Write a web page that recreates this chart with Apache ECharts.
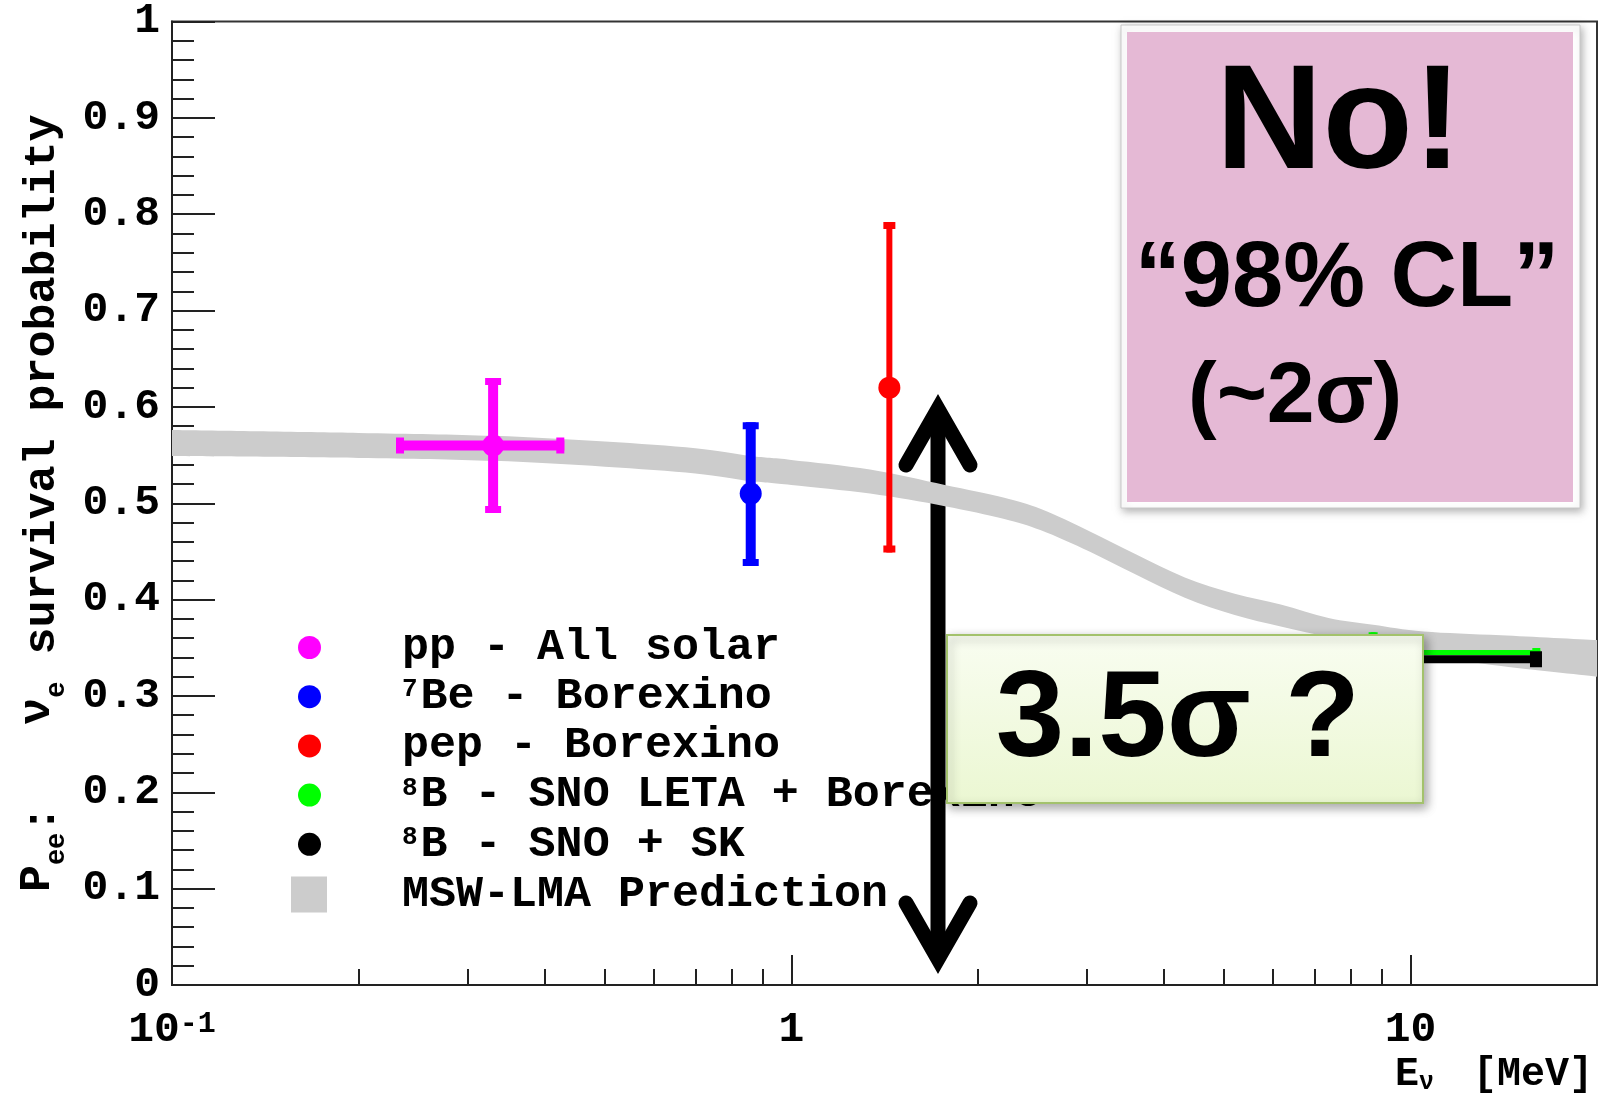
<!DOCTYPE html>
<html><head><meta charset="utf-8">
<script src="https://cdn.jsdelivr.net/npm/echarts@6/dist/echarts.min.js"></script>
<style>html,body{margin:0;padding:0;background:#fff}#c{width:1601px;height:1099px}</style>
</head><body><div id="c"></div>
<script>
// ---------------- data ----------------
const sources = ['pp', 'Be7', 'pep', 'B8leta', 'B8sk'];
const sourceLabels = ['{t|pp - All solar}', '{s|7}{t|Be - Borexino}', '{t|pep - Borexino}',
  '{s|8}{t|B - SNO LETA + Borexino}', '{s|8}{t|B - SNO + SK}'];
const energy     = [0.33, 0.86, 1.44, 8.7, 10.0];
const pee        = [0.56, 0.51, 0.62, 0.345, 0.338];
const energyLow  = [0.23, null, null, 5.0, 6.0];
const energyHigh = [0.43, null, null, 16.2, 16.3];
const peeLow     = [0.49, 0.435, 0.449, 0.325, null];
const peeHigh    = [0.63, 0.584, 0.792, 0.366, null];

const bandEnergy = [0.1, 0.2, 0.33, 0.5, 0.7, 0.86, 1.0, 1.34, 1.77, 2.2, 2.53, 3.03, 3.6, 4.32, 5.2, 6.17, 7.37, 8.7, 10.5, 14, 20];
const bandLow    = [0.549, 0.547, 0.544, 0.538, 0.531, 0.523, 0.519, 0.510, 0.497, 0.484, 0.472, 0.450, 0.426, 0.402, 0.384, 0.372, 0.361, 0.351, 0.343, 0.331, 0.320];
const bandHigh   = [0.576, 0.573, 0.570, 0.564, 0.557, 0.549, 0.545, 0.535, 0.519, 0.506, 0.494, 0.471, 0.447, 0.423, 0.406, 0.395, 0.381, 0.374, 0.367, 0.363, 0.358];

const xTickLabels = [0.1, 1, 10];
const xMajorTicks = [1, 10];
const xMinorTicks = [0.2, 0.3, 0.4, 0.5, 0.6, 0.7, 0.8, 0.9, 2, 3, 4, 5, 6, 7, 8, 9];

// ---------------- style ----------------
const colors = ['#ff00ff', '#0000ff', '#ff0000', '#00ff00', '#000000'];
const barStyle = [
  {h: 10, v: 10, cap: 3, capw: 8},
  {h: 10, v: 10, cap: 3, capw: 8},
  {h: 6,  v: 6,  cap: 3, capw: 8},
  {h: 5,  v: 5,  cap: 2, capw: 8},
  {h: 8,  v: 8,  cap: 4, capw: 12}
];
const MONO = 'Liberation Mono';
const SANS = 'Liberation Sans';
const axisCol = '#222';
const bandColor = '#cccccc';

const chart = echarts.init(document.getElementById('c'), null, {renderer: 'canvas'});

function renderErr(params, api) {
  const i = api.value(2);
  const st = barStyle[i];
  const col = colors[i];
  const c = api.coord([energy[i], pee[i]]);
  const ch = [];
  if (energyLow[i] != null) {
    const a = api.coord([energyLow[i], pee[i]]);
    const b = api.coord([energyHigh[i], pee[i]]);
    ch.push({type: 'rect', shape: {x: a[0], y: c[1] - st.h / 2, width: b[0] - a[0], height: st.h}, style: {fill: col}});
    ch.push({type: 'rect', shape: {x: a[0], y: c[1] - st.h / 2 - st.cap, width: st.capw, height: st.h + 2 * st.cap}, style: {fill: col}});
    ch.push({type: 'rect', shape: {x: b[0] - st.capw, y: c[1] - st.h / 2 - st.cap, width: st.capw, height: st.h + 2 * st.cap}, style: {fill: col}});
  }
  if (peeLow[i] != null) {
    const lo = api.coord([energy[i], peeLow[i]]);
    const hi = api.coord([energy[i], peeHigh[i]]);
    ch.push({type: 'rect', shape: {x: c[0] - st.v / 2, y: hi[1], width: st.v, height: lo[1] - hi[1]}, style: {fill: col}});
    ch.push({type: 'rect', shape: {x: c[0] - st.v / 2 - st.cap, y: hi[1], width: st.v + 2 * st.cap, height: 7}, style: {fill: col}});
    ch.push({type: 'rect', shape: {x: c[0] - st.v / 2 - st.cap, y: lo[1] - 7, width: st.v + 2 * st.cap, height: 7}, style: {fill: col}});
  }
  return {type: 'group', children: ch};
}

// smooth path through screen points (Catmull-Rom -> cubic bezier)
function splinePath(p, start) {
  let d = start ? 'M' + p[0][0] + ',' + p[0][1] : 'L' + p[0][0] + ',' + p[0][1];
  for (let k = 0; k < p.length - 1; k++) {
    const p0 = p[Math.max(k - 1, 0)], p1 = p[k], p2 = p[k + 1], p3 = p[Math.min(k + 2, p.length - 1)];
    const c1 = [p1[0] + (p2[0] - p0[0]) / 6, p1[1] + (p2[1] - p0[1]) / 6];
    const c2 = [p2[0] - (p3[0] - p1[0]) / 6, p2[1] - (p3[1] - p1[1]) / 6];
    d += 'C' + c1[0] + ',' + c1[1] + ' ' + c2[0] + ',' + c2[1] + ' ' + p2[0] + ',' + p2[1];
  }
  return d;
}

function renderBand(params, api) {
  if (params.dataIndex !== 0) return null;
  const up = [], lo = [];
  for (let k = 0; k < bandEnergy.length; k++) up.push(api.coord([bandEnergy[k], bandHigh[k]]));
  for (let k = bandEnergy.length - 1; k >= 0; k--) lo.push(api.coord([bandEnergy[k], bandLow[k]]));
  const d = splinePath(up, true) + splinePath(lo, false) + 'Z';
  return {type: 'path', shape: {pathData: d}, style: {fill: bandColor}};
}

const series = [
  {
    type: 'custom', name: 'msw', renderItem: renderBand, clip: true, z: 1,
    data: bandEnergy.map((e, k) => [e, bandLow[k], bandHigh[k]]),
    encode: {x: 0, y: 1}, itemStyle: {color: bandColor}
  },
  {
    type: 'custom', name: 'errors', renderItem: renderErr, clip: true, z: 2,
    data: sources.map((s, i) => [energy[i], pee[i], i]),
    encode: {x: 0, y: 1}
  }
];
sources.forEach((s, i) => {
  series.push({
    type: 'scatter', name: s, z: 3, symbol: 'circle', symbolSize: 22,
    itemStyle: {color: colors[i], opacity: 1},
    data: [[energy[i], pee[i]]]
  });
});

const monoBold = {fontFamily: MONO, fontWeight: 'bold', color: '#000'};

const option = {
  animation: false,
  backgroundColor: '#ffffff',
  grid: {left: 172, right: 4, top: 20, bottom: 114, show: true, borderColor: '#333', borderWidth: 2, backgroundColor: 'transparent'},
  xAxis: [
    {
      type: 'log', logBase: 10, min: 0.1, max: 20, position: 'bottom',
      axisLine: {show: true, onZero: false, lineStyle: {color: axisCol, width: 2}},
      axisTick: {show: true, inside: true, length: 30, customValues: xMajorTicks, lineStyle: {color: axisCol, width: 2}},
      minorTick: {show: false},
      splitLine: {show: false},
      axisLabel: {
        customValues: xTickLabels, margin: 24,
        formatter: v => v < 0.5 ? '{n|10}{p|-1}' : '{n|' + v + '}',
        rich: {
          n: Object.assign({fontSize: 43, lineHeight: 43}, monoBold),
          p: Object.assign({fontSize: 30, lineHeight: 18, verticalAlign: 'top'}, monoBold)
        }
      },
      name: '{t|E}{s|ν}{t| }{s| }{t|[MeV]}', nameLocation: 'end', nameGap: -4,
      nameTextStyle: {
        align: 'right', verticalAlign: 'top', padding: [70, 0, 0, 0],
        rich: {
          t: Object.assign({fontSize: 40, lineHeight: 40}, monoBold),
          s: Object.assign({fontSize: 25, lineHeight: 30, verticalAlign: 'bottom'}, monoBold)
        }
      }
    },
    {
      type: 'log', logBase: 10, min: 0.1, max: 20, position: 'bottom',
      axisLine: {show: false, onZero: false},
      axisTick: {show: true, inside: true, length: 16, customValues: xMinorTicks, lineStyle: {color: axisCol, width: 2}},
      axisLabel: {show: false}, splitLine: {show: false}
    }
  ],
  yAxis: {
    type: 'value', min: 0, max: 1, interval: 0.1,
    axisLine: {show: true, lineStyle: {color: axisCol, width: 2}},
    axisTick: {show: true, inside: true, length: 43, lineStyle: {color: axisCol, width: 2}},
    minorTick: {show: true, splitNumber: 5, length: 22, lineStyle: {color: axisCol, width: 2}},
    splitLine: {show: false},
    axisLabel: Object.assign({margin: 12, fontSize: 43}, monoBold),
    name: '{r|P}{s|ee}{t|:   }{r|ν}{s|e}{t| survival probability}',
    nameLocation: 'middle', nameGap: 101,
    nameTextStyle: {
      rich: {
        t: Object.assign({fontSize: 45, lineHeight: 56}, monoBold),
        r: Object.assign({fontSize: 45, lineHeight: 40, verticalAlign: 'top'}, monoBold),
        s: Object.assign({fontSize: 27, lineHeight: 46, verticalAlign: 'bottom'}, monoBold)
      }
    }
  },
  legend: [
    {
      orient: 'vertical', left: 293, top: 620, itemWidth: 23, itemHeight: 23, itemGap: 4.2,
      selectedMode: false, data: sources,
      formatter: name => sourceLabels[sources.indexOf(name)],
      textStyle: {
        padding: [0, 0, 0, 76], lineHeight: 40,
        rich: {
          t: Object.assign({fontSize: 45, lineHeight: 40}, monoBold),
          s: Object.assign({fontSize: 26, lineHeight: 14, verticalAlign: 'top', padding: [0, 3, 0, 0]}, monoBold)
        }
      }
    },
    {
      orient: 'vertical', left: 286, top: 867, itemWidth: 36, itemHeight: 36,
      selectedMode: false,
      data: [{name: 'msw', icon: 'rect', itemStyle: {color: bandColor}}],
      formatter: () => '{t|MSW-LMA Prediction}',
      textStyle: {
        padding: [0, 0, 0, 70], lineHeight: 36,
        rich: {t: Object.assign({fontSize: 45, lineHeight: 36}, monoBold)}
      }
    }
  ],
  series: series,
  graphic: [
    {
      type: 'group', z: 100, children: [
        {type: 'line', shape: {x1: 938, y1: 409, x2: 938, y2: 959}, style: {stroke: '#000', lineWidth: 15}},
        {type: 'polyline', shape: {points: [[906, 465], [938, 409], [970, 465]]},
          style: {stroke: '#000', lineWidth: 15, lineCap: 'round', lineJoin: 'miter', fill: null}},
        {type: 'polyline', shape: {points: [[906, 903], [938, 959], [970, 903]]},
          style: {stroke: '#000', lineWidth: 15, lineCap: 'round', lineJoin: 'miter', fill: null}}
      ]
    },
    {
      type: 'rect', z: 110, shape: {x: 947, y: 635, width: 476, height: 168},
      style: {
        fill: new echarts.graphic.LinearGradient(0, 0, 0, 1, [{offset: 0, color: '#f9fdf1'}, {offset: 1, color: '#ebf7d2'}]),
        stroke: '#a3c26c', lineWidth: 2,
        shadowBlur: 10, shadowColor: 'rgba(0,0,0,0.35)', shadowOffsetX: 3, shadowOffsetY: 4
      }
    },
    {
      type: 'text', z: 111, x: 1178, y: 722,
      style: {text: '3.5σ ?', fontFamily: SANS, fontWeight: 'bold', fontSize: 123, fill: '#000',
        align: 'center', verticalAlign: 'middle', textAlign: 'center', textVerticalAlign: 'middle'}
    },
    {
      type: 'rect', z: 110, shape: {x: 1121, y: 25, width: 459, height: 483},
      style: {fill: '#ffffff', stroke: '#c8c8c8', lineWidth: 1,
        shadowBlur: 8, shadowColor: 'rgba(0,0,0,0.3)', shadowOffsetX: 2, shadowOffsetY: 3}
    },
    {
      type: 'rect', z: 111, shape: {x: 1127, y: 32, width: 446, height: 470},
      style: {fill: '#e5b9d5'}
    },
    {
      type: 'text', z: 112, x: 1339, y: 127,
      style: {text: 'No!', fontFamily: SANS, fontWeight: 'bold', fontSize: 148, fill: '#000',
        align: 'center', verticalAlign: 'middle', textAlign: 'center', textVerticalAlign: 'middle',
        shadowBlur: 6, shadowColor: 'rgba(0,0,0,0.3)', shadowOffsetY: 3}
    },
    {
      type: 'text', z: 112, x: 1347, y: 281,
      style: {text: '“98% CL”', fontFamily: SANS, fontWeight: 'bold', fontSize: 92, fill: '#000',
        align: 'center', verticalAlign: 'middle', textAlign: 'center', textVerticalAlign: 'middle',
        shadowBlur: 6, shadowColor: 'rgba(0,0,0,0.3)', shadowOffsetY: 3}
    },
    {
      type: 'text', z: 112, x: 1188, y: 398,
      style: {text: '(~2σ)', fontFamily: SANS, fontWeight: 'bold', fontSize: 86, fill: '#000',
        align: 'left', verticalAlign: 'middle', textAlign: 'left', textVerticalAlign: 'middle',
        shadowBlur: 6, shadowColor: 'rgba(0,0,0,0.3)', shadowOffsetY: 3}
    }
  ]
};
chart.setOption(option);
</script>
</body></html>
